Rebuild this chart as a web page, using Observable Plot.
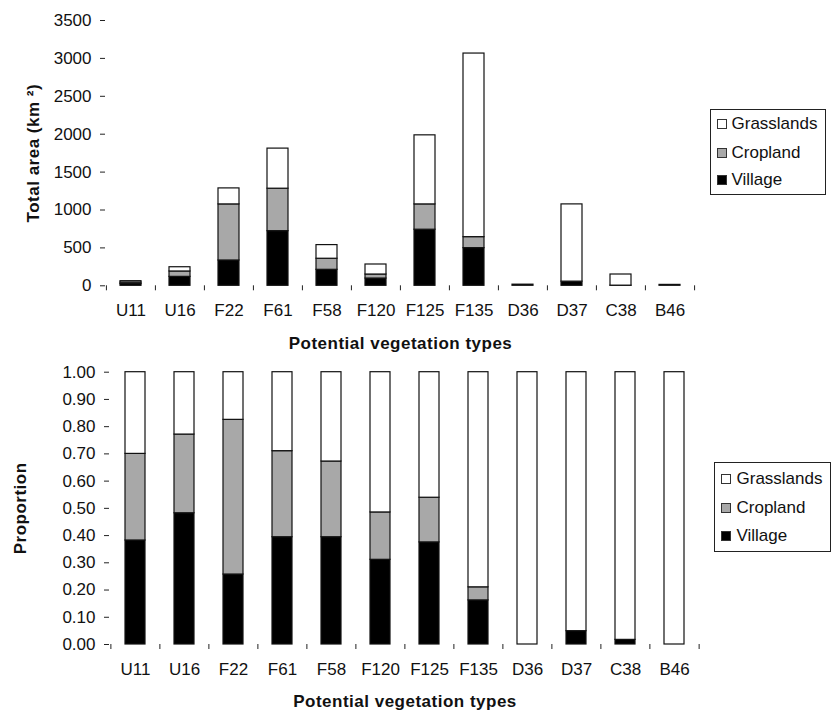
<!DOCTYPE html>
<html><head><meta charset="utf-8">
<script src="https://cdn.jsdelivr.net/npm/d3@7"></script>
<script src="https://cdn.jsdelivr.net/npm/@observablehq/plot@0.6"></script>
<style>
body{margin:0;background:#fff;font-family:"Liberation Sans",Arial,sans-serif;}
#wrap{position:relative;width:831px;height:712px;overflow:hidden;background:#fff;}
.chart{position:absolute;left:0;}
.legend{position:absolute;box-sizing:border-box;border:1.5px solid #222;background:#fff;font-size:17px;color:#111;}
.legend .row{position:absolute;height:20px;line-height:20px;white-space:nowrap;}
.legend .sw{position:absolute;box-sizing:border-box;width:10px;height:10px;border:1px solid #333;}
g[font-weight="bold"] text{letter-spacing:0.5px;}
</style></head><body><div id="wrap"></div>
<script>
// ---- data ----
const categories = ["U11","U16","F22","F61","F58","F120","F125","F135","D36","D37","C38","B46"];
const seriesNames = ["Grasslands","Cropland","Village"];
// Total area (km2) by land use
const areaVillage    = [23, 118, 334, 721, 211, 96, 740, 497, 0, 55, 2, 0];
const areaCropland   = [19, 71, 740, 560, 146, 53, 334, 145, 0, 0, 0, 0];
const areaGrasslands = [19, 56, 211, 529, 180, 132, 911, 2422, 15, 1019, 147, 12];
// Proportion by land use
const propVillage    = [0.382, 0.482, 0.257, 0.394, 0.394, 0.311, 0.375, 0.162, 0, 0.049, 0.017, 0];
const propCropland   = [0.318, 0.289, 0.568, 0.316, 0.278, 0.174, 0.164, 0.048, 0, 0, 0, 0];
const propGrasslands = [0.300, 0.229, 0.175, 0.290, 0.328, 0.515, 0.461, 0.790, 1, 0.951, 0.983, 1];
const areaTicks = [0, 500, 1000, 1500, 2000, 2500, 3000, 3500];
const propTicks = [0, 0.1, 0.2, 0.3, 0.4, 0.5, 0.6, 0.7, 0.8, 0.9, 1.0];
const xTitle = "Potential vegetation types";
const yTitleTop = "Total area (km \u00B2)";
const yTitleBottom = "Proportion";

function toRows(v, c, g) {
  return categories.flatMap((cat, i) => [
    {cat, type: "Village", value: v[i]},
    {cat, type: "Cropland", value: c[i]},
    {cat, type: "Grasslands", value: g[i]}
  ]);
}

const W = 831;
const FONT = '"Liberation Sans", Arial, sans-serif';

function makeChart(o) {
  const n = categories.length;
  const step = (W - o.mLeft - o.mRight) / n;
  return Plot.plot({
    width: W, height: o.height,
    marginTop: o.mTop, marginLeft: o.mLeft, marginRight: o.mRight, marginBottom: o.mBottom,
    style: {fontFamily: FONT, fontSize: "17px", color: "#111", background: "transparent", overflow: "visible"},
    x: {domain: categories, paddingInner: o.pad, paddingOuter: o.pad / 2, axis: null},
    y: {domain: o.yDomain, axis: null},
    color: {domain: seriesNames, range: ["#ffffff", "#a8a8a8", "#000000"]},
    marks: [
      Plot.barY(o.rows, {x: "cat", y: "value", fill: "type", order: ["Village", "Cropland", "Grasslands"], stroke: "#111", strokeWidth: 1.2}),
      Plot.axisY({ticks: o.ticks, tickFormat: o.fmt, tickSize: 5, tickPadding: 9, line: true, label: null, stroke: "#222"}),
      Plot.axisX({tickSize: 0, tickPadding: 18, line: true, label: null, stroke: "#222"}),
      Plot.ruleX(categories, {x: d => d, y1: () => o.yDomain[0], y2: () => o.yDomain[0], dx: -step / 2, insetBottom: -5, stroke: "#222"}),
      Plot.ruleX(categories.slice(-1), {x: d => d, y1: () => o.yDomain[0], y2: () => o.yDomain[0], dx: step / 2, insetBottom: -5, stroke: "#222"}),
      Plot.text([xTitle], {text: d => d, frameAnchor: "bottom", dy: o.xTitleDy, fontWeight: "bold", textAnchor: "middle", lineAnchor: "middle"}),
      Plot.text([o.yTitle], {text: d => d, frameAnchor: "left", dx: o.yTitleDx, rotate: -90, fontWeight: "bold", textAnchor: "middle", lineAnchor: "middle"})
    ]
  });
}

const wrap = document.getElementById("wrap");

const topChart = makeChart({
  rows: toRows(areaVillage, areaCropland, areaGrasslands),
  yDomain: [0, 3500], ticks: areaTicks, fmt: d => String(d),
  mTop: 20, mLeft: 105, mRight: 136, mBottom: 70.7, height: 356, pad: 0.58,
  xTitleDy: 57.7, yTitle: yTitleTop, yTitleDx: -72
});
topChart.classList.add("chart"); topChart.style.top = "0px";
wrap.appendChild(topChart);

const bottomChart = makeChart({
  rows: toRows(propVillage, propCropland, propGrasslands),
  yDomain: [0, 1], ticks: propTicks, fmt: d3.format(".2f"),
  mTop: 15.7, mLeft: 109, mRight: 131, mBottom: 68, height: 356, pad: 0.59,
  xTitleDy: 57, yTitle: yTitleBottom, yTitleDx: -89
});
bottomChart.classList.add("chart"); bottomChart.style.top = "356px";
wrap.appendChild(bottomChart);

function legend(left, topPx, width, height, rowTops, swLeft, textLeft) {
  const box = document.createElement("div");
  box.className = "legend";
  Object.assign(box.style, {left: left + "px", top: topPx + "px", width: width + "px", height: height + "px"});
  const fills = {Grasslands: "#ffffff", Cropland: "#a8a8a8", Village: "#000000"};
  seriesNames.forEach((name, i) => {
    const sw = document.createElement("div");
    sw.className = "sw";
    Object.assign(sw.style, {left: swLeft + "px", top: (rowTops[i] - 5) + "px", background: fills[name]});
    box.appendChild(sw);
    const row = document.createElement("div");
    row.className = "row";
    row.textContent = name;
    Object.assign(row.style, {left: textLeft + "px", top: (rowTops[i] - 10) + "px"});
    box.appendChild(row);
  });
  wrap.appendChild(box);
}
legend(710, 109, 116, 86, [14, 42.5, 70], 5.5, 20.5);
legend(714, 461.5, 117, 90, [16, 45, 73], 5.5, 21.5);
</script></body></html>
